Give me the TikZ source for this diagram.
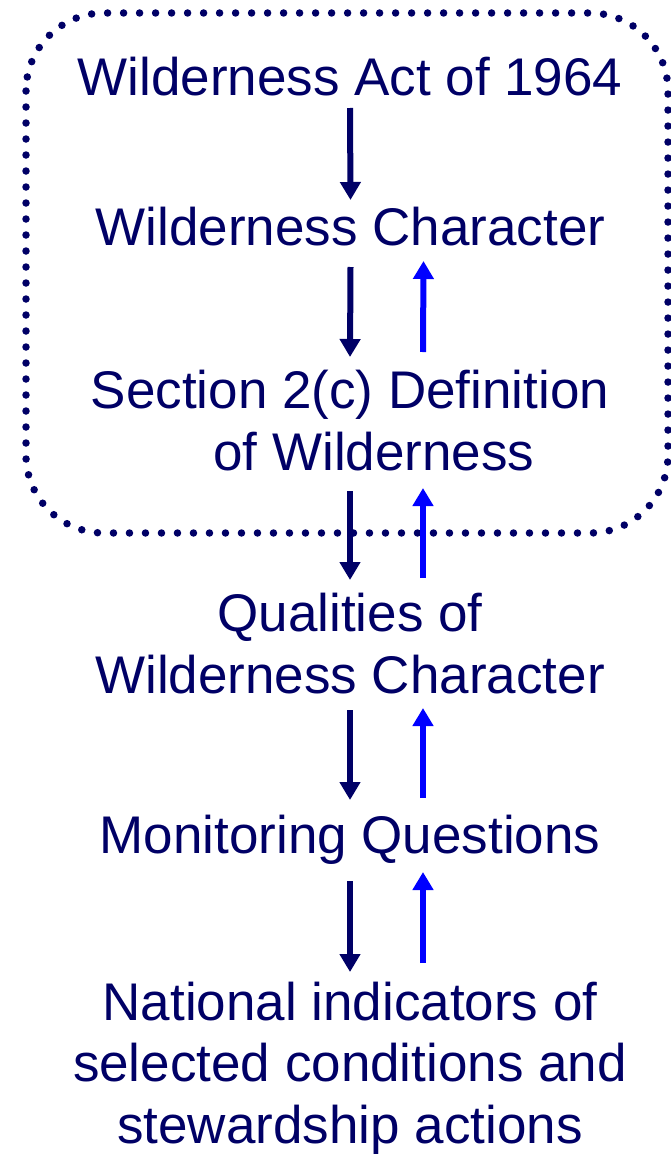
\documentclass[tikz,border=0pt]{standalone}
\usepackage{fontspec}
\setmainfont{Liberation Sans}
\usepackage{tikz}
\usetikzlibrary{arrows.meta,positioning,calc}
\usepackage{xcolor}
\definecolor{navyink}{RGB}{0,0,102}
\definecolor{upblue}{RGB}{0,0,255}

\begin{document}
\begin{tikzpicture}[x=1pt,y=-1pt,
  label/.style={anchor=base,inner sep=0pt,align=center,text=navyink,
    font=\fontsize{53}{61.5}\selectfont},
  downarr/.style={draw=navyink,line width=6pt,-{Triangle[width=20pt,length=18pt]}},
  uparr/.style={draw=upblue,line width=6pt,-{Triangle[width=20pt,length=18pt]}},
  dotbox/.style={draw=navyink,line width=7.5pt,line cap=round,
    dash pattern=on 0pt off 16pt,rounded corners=78pt}]
\useasboundingbox (0,0) rectangle (671,1156);

% the act, its character and the 2(c) definition inside the dotted frame
\draw[dotbox] (26,13) rectangle (668,533);

% multi-line labels sit on the baseline of their last line
\node[label] (act) at (350,95) {Wilderness Act of 1964};
\node[label] (wc) at (350.5,245) {Wilderness Character};
\node[label] (def) at (350,470) {Section 2(c) Definition\\\hspace*{48pt}of Wilderness};
\node[label] (qual) at (350,693) {Qualities of\\Wilderness Character};
\node[label] (mon) at (350,853) {Monitoring Questions};
\node[label] (nat) at (350,1143) {National indicators of\\selected conditions and\\stewardship actions};

% downward links
\draw[downarr] ([yshift=-13pt]act.base) -- ([yshift=45pt]wc.base);
\draw[downarr] ([yshift=-22pt]wc.base) -- ([yshift=113pt]def.base);
\draw[downarr] ([yshift=-21pt]def.base) -- ([yshift=113pt]qual.base);
\draw[downarr] ([yshift=-17pt]qual.base) -- ([yshift=53pt]mon.base);
\draw[downarr] ([yshift=-28pt]mon.base) -- ([yshift=171pt]nat.base);

% feedback links
\draw[uparr] ([xshift=73pt,yshift=118pt]def.base) -- ([xshift=73pt,yshift=-16pt]wc.base);
\draw[uparr] ([xshift=73pt,yshift=115pt]qual.base) -- ([xshift=73pt,yshift=-18pt]def.base);
\draw[uparr] ([xshift=73pt,yshift=55pt]mon.base) -- ([xshift=73pt,yshift=-15pt]qual.base);
\draw[uparr] ([xshift=73pt,yshift=180pt]nat.base) -- ([xshift=73pt,yshift=-19pt]mon.base);
\end{tikzpicture}
\end{document}
